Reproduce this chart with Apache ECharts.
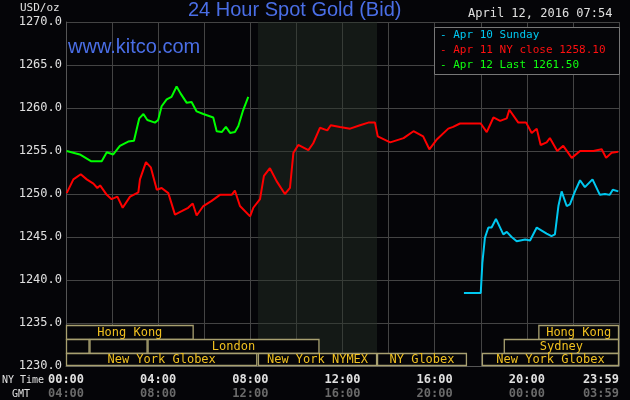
<!DOCTYPE html>
<html><head><meta charset="utf-8">
<script src="https://cdn.jsdelivr.net/npm/echarts@6/dist/echarts.min.js"></script>
<style>html,body{margin:0;background:#050508}#c{width:630px;height:400px}</style>
</head><body><div id="c"></div>
<script>
const greenApr12 = [[0.03,1255.0],[0.6,1254.6],[1.1,1253.8],[1.55,1253.8],[1.77,1254.85],[2.05,1254.6],[2.34,1255.6],[2.7,1256.1],[2.95,1256.2],[3.18,1258.8],[3.36,1259.3],[3.53,1258.6],[3.86,1258.3],[4.0,1258.6],[4.15,1260.2],[4.37,1261.0],[4.58,1261.3],[4.8,1262.5],[4.97,1261.7],[5.24,1260.6],[5.45,1260.7],[5.67,1259.6],[5.96,1259.3],[6.39,1258.9],[6.54,1257.3],[6.76,1257.2],[6.94,1257.8],[7.12,1257.1],[7.33,1257.2],[7.48,1257.9],[7.67,1259.6],[7.91,1261.3]];
const redApr11 = [[0.03,1250.1],[0.32,1251.7],[0.64,1252.3],[0.9,1251.7],[1.19,1251.2],[1.36,1250.7],[1.48,1251.0],[1.77,1249.9],[1.98,1249.4],[2.23,1249.7],[2.46,1248.4],[2.78,1249.7],[3.14,1250.2],[3.21,1251.7],[3.47,1253.7],[3.68,1253.1],[3.94,1250.5],[4.15,1250.7],[4.44,1250.1],[4.73,1247.6],[5.02,1248.0],[5.3,1248.4],[5.5,1248.9],[5.67,1247.5],[5.96,1248.6],[6.32,1249.2],[6.68,1249.9],[7.19,1249.9],[7.33,1250.4],[7.55,1248.6],[7.99,1247.4],[8.13,1248.4],[8.42,1249.4],[8.59,1252.1],[8.85,1253.0],[9.14,1251.5],[9.5,1250.0],[9.72,1250.7],[9.87,1254.8],[10.08,1255.7],[10.52,1255.1],[10.73,1255.9],[11.02,1257.7],[11.34,1257.4],[11.49,1258.0],[11.89,1257.8],[12.33,1257.6],[12.76,1258.0],[13.12,1258.3],[13.41,1258.3],[13.53,1256.7],[14.07,1256.0],[14.65,1256.5],[15.08,1257.3],[15.5,1256.7],[15.77,1255.2],[16.08,1256.3],[16.59,1257.6],[16.8,1257.8],[17.1,1258.2],[18.0,1258.2],[18.26,1257.2],[18.55,1258.9],[18.84,1258.5],[19.13,1258.8],[19.24,1259.8],[19.63,1258.3],[19.97,1258.3],[20.21,1257.1],[20.43,1257.6],[20.6,1255.7],[20.86,1256.0],[21.0,1256.5],[21.32,1255.0],[21.58,1255.6],[21.95,1254.2],[22.31,1255.0],[22.89,1255.0],[23.25,1255.2],[23.44,1254.2],[23.68,1254.8],[23.97,1254.9]];
const blueApr10 = [[17.27,1238.5],[18.0,1238.5],[18.07,1242.0],[18.18,1244.9],[18.33,1246.1],[18.47,1246.1],[18.66,1247.1],[18.98,1245.3],[19.13,1245.6],[19.34,1245.0],[19.56,1244.5],[19.93,1244.7],[20.14,1244.6],[20.43,1246.1],[20.86,1245.4],[21.07,1245.1],[21.22,1245.3],[21.37,1248.6],[21.51,1250.3],[21.73,1248.6],[21.87,1248.8],[22.09,1250.3],[22.31,1251.6],[22.52,1250.8],[22.85,1251.7],[23.17,1249.9],[23.39,1250.0],[23.6,1249.9],[23.73,1250.5],[23.97,1250.3]];
// sessions: [startHour, endHour, row, name]
const sessions = [[0,5.54,0,'Hong Kong'],[20.5,24,0,'Hong Kong'],[0,1.02,1,''],[1.02,3.54,1,''],[3.54,11.0,1,'London'],[19.0,24,1,'Sydney'],[0,8.3,2,'New York Globex'],[8.33,13.5,2,'New York NYMEX'],[13.5,17.4,2,'NY Globex'],[18.05,24,2,'New York Globex']];
const rowRanges = [[1234.77,1233.12],[1233.12,1231.5],[1231.5,1230.1]];
const yTicks = [1230,1235,1240,1245,1250,1255,1260,1265,1270];
const nymexShade = [8.33,13.5];
const fmtH = h => h>=24 ? '23:59' : String(h).padStart(2,'0')+':00';
const fmtG = h => h>=24 ? '03:59' : String((h+4)%24).padStart(2,'0')+':00';
const mono = 'DejaVu Sans Mono';
const chart = echarts.init(document.getElementById('c'));
const xBase = {type:'value',min:0,max:24,interval:2,position:'bottom'};
chart.setOption({
  backgroundColor:'#050508',
  animation:false,
  grid:{left:66,right:11,top:22,bottom:33},
  xAxis:[
    Object.assign({},xBase,{axisLine:{lineStyle:{color:'#555'}},axisTick:{show:false},
      splitLine:{show:true,lineStyle:{color:'#444',width:1}},
      axisLabel:{color:'#e0e0e0',fontFamily:mono,fontSize:12,fontWeight:'bold',margin:8,alignMaxLabel:'right',
        formatter:v=>(v%4===0||v===24)?fmtH(v):''}}),
    Object.assign({},xBase,{offset:14,axisLine:{show:false},axisTick:{show:false},splitLine:{show:false},
      axisLabel:{color:'#6a6a6a',fontFamily:mono,fontSize:12,fontWeight:'bold',margin:8,alignMaxLabel:'right',
        formatter:v=>(v%4===0||v===24)?fmtG(v):''}})
  ],
  yAxis:{type:'value',min:1230,max:1270,interval:5,axisLine:{show:true,lineStyle:{color:'#555'}},axisTick:{show:false},
    splitLine:{lineStyle:{color:'#444'}},
    axisLabel:{color:'#e0e0e0',fontFamily:mono,fontSize:12,margin:4,formatter:v=>v.toFixed(1)}},
  graphic:[
    {type:'rect',left:434,top:27,shape:{width:185,height:47},style:{fill:'#050508',stroke:'#777'},z:100},
    {type:'text',left:440,top:30,style:{text:'- Apr 10 Sunday',fill:'#00c8f0',font:'11px '+mono},z:101},
    {type:'text',left:440,top:45,style:{text:'- Apr 11 NY close 1258.10',fill:'#ff1010',font:'11px '+mono},z:101},
    {type:'text',left:440,top:60,style:{text:'- Apr 12 Last 1261.50',fill:'#10ff10',font:'11px '+mono},z:101},
    {type:'text',left:188,top:0,style:{text:'24 Hour Spot Gold (Bid)',fill:'#4a6ee6',font:'20px "Liberation Sans"'},z:101},
    {type:'text',left:468,top:8,style:{text:'April 12, 2016 07:54',fill:'#e0e0e0',font:'12px '+mono},z:101},
    {type:'text',left:20,top:3,style:{text:'USD/oz',fill:'#e0e0e0',font:'11px '+mono},z:101},
    {type:'text',left:68,top:37,style:{text:'www.kitco.com',fill:'#4a6ee6',font:'20px "Liberation Sans"'},z:101},
    {type:'text',left:2,top:375,style:{text:'NY Time',fill:'#e0e0e0',font:'10px '+mono},z:101},
    {type:'text',left:12,top:389,style:{text:'GMT',fill:'#e0e0e0',font:'10px '+mono},z:101}
  ],
  series:[
    {type:'line',data:[],markArea:{silent:true,itemStyle:{color:'rgba(40,50,40,0.45)'},data:[[{xAxis:nymexShade[0]},{xAxis:nymexShade[1]}]]},z:0},
    {type:'custom',coordinateSystem:'cartesian2d',data:sessions,z:3,
      renderItem:(params,api)=>{
        const s=sessions[params.dataIndex];const r=rowRanges[s[2]];
        const p1=api.coord([s[0],r[0]]),p2=api.coord([s[1],r[1]]);
        return {type:'group',children:[
          {type:'rect',shape:{x:p1[0]+0.5,y:Math.round(p1[1])+0.5,width:p2[0]-p1[0]-1,height:Math.round(p2[1]-p1[1])},style:{fill:'#050508',stroke:'#a8a070',lineWidth:1.3}},
          {type:'text',x:(p1[0]+p2[0])/2,y:(p1[1]+p2[1])/2+1,style:{text:s[3],fill:'#f0c020',font:'12px '+mono,align:'center',verticalAlign:'middle'}}
        ]};
      }},
    {type:'line',data:blueApr10,showSymbol:false,lineStyle:{color:'#00c8f0',width:2},z:5},
    {type:'line',data:redApr11,showSymbol:false,lineStyle:{color:'#ff0000',width:2},z:5},
    {type:'line',data:greenApr12,showSymbol:false,lineStyle:{color:'#00ff00',width:2},z:5}
  ]
});
</script></body></html>
